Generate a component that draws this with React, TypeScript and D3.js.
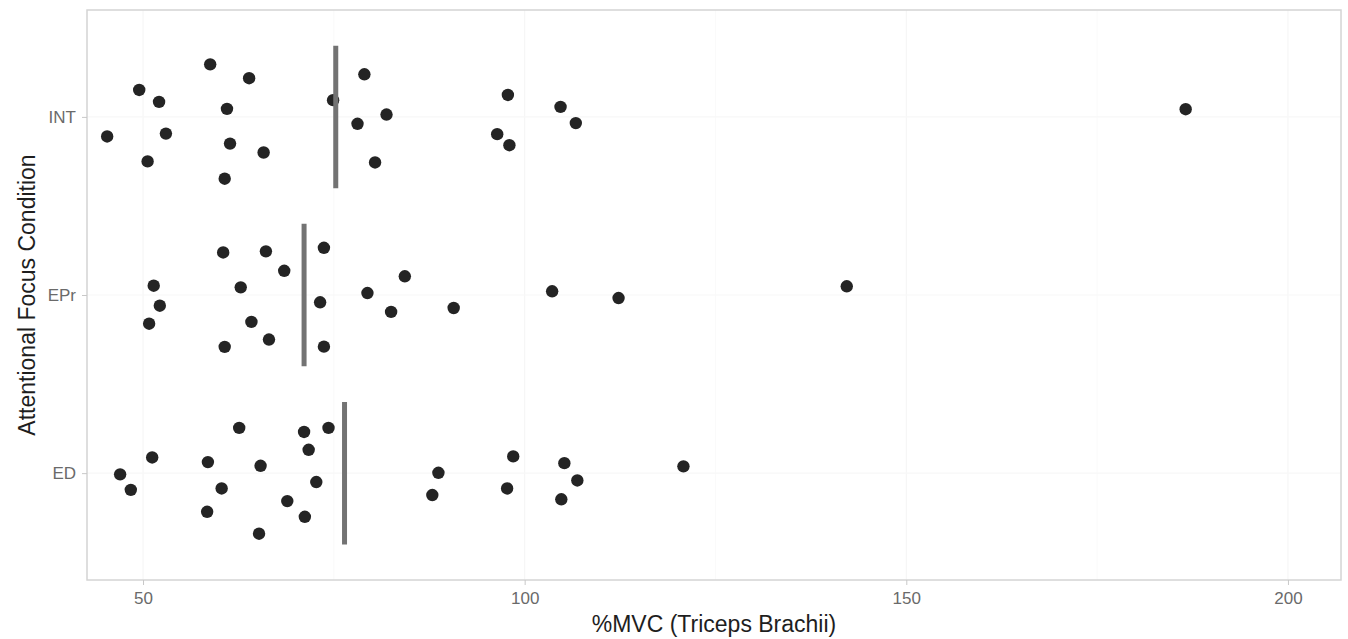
import React, { useEffect, useRef } from "react";
import * as d3 from "d3";

// %MVC values, with the vertical jitter of each point (in category units)
const categories = ["ED", "EPr", "INT"];

const intValues = [
  58.8, 63.9, 49.5, 52.1, 61.0, 45.3, 53.0, 61.4, 50.6, 65.8, 60.7,
  74.9, 79.0, 81.9, 78.1, 80.4, 97.8, 96.4, 98.0, 104.7, 106.7, 186.6
];
const intJitter = [
  0.295, 0.217, 0.151, 0.084, 0.045, -0.11, -0.094, -0.15, -0.25, -0.2, -0.347,
  0.094, 0.239, 0.013, -0.039, -0.256, 0.123, -0.097, -0.159, 0.056, -0.035, 0.043
];

const eprValues = [
  60.5, 66.1, 68.5, 73.7, 51.4, 52.2, 50.8, 62.8, 64.2, 66.5,
  60.7, 73.2, 73.7, 79.4, 84.3, 82.5, 90.7, 103.6, 112.3, 142.2
];
const eprJitter = [
  0.239, 0.245, 0.136, 0.265, 0.052, -0.06, -0.161, 0.043, -0.151, -0.25,
  -0.291, -0.041, -0.29, 0.011, 0.105, -0.095, -0.073, 0.021, -0.017, 0.049
];

const edValues = [
  62.6, 71.1, 74.3, 71.7, 51.2, 47.0, 48.4, 58.5, 65.4, 60.3, 72.7, 68.9,
  58.4, 71.2, 65.2, 88.7, 87.9, 98.5, 97.7, 105.2, 106.9, 104.8, 120.8
];
const edJitter = [
  0.254, 0.231, 0.254, 0.131, 0.088, -0.007, -0.094, 0.062, 0.041, -0.086, -0.05, -0.157,
  -0.217, -0.245, -0.34, 0.002, -0.123, 0.094, -0.086, 0.056, -0.041, -0.147, 0.038
];

const medians = [76.4, 71.1, 75.25]; // ED, EPr, INT

const xTicks = [50, 100, 150, 200];
const xMinor = [75, 125, 175];

function App() {
  const ref = useRef(null);

  useEffect(() => {
    document.body.style.margin = "0";
    drawChart();
  }, []);

  const drawChart = () => {
    const width = 1348;
    const height = 639;
    const left = 87;
    const right = 1341;
    const top = 10;
    const bottom = 580;

    const svg = d3.select(ref.current);
    svg.selectAll("*").remove();

    const x = d3.scaleLinear().domain([42.66, 206.95]).range([left, right]);
    const y = d3.scaleLinear().domain([0.4, 3.6]).range([bottom, top]);

    const groups = [
      { name: "ED", values: edValues, jitter: edJitter, median: medians[0] },
      { name: "EPr", values: eprValues, jitter: eprJitter, median: medians[1] },
      { name: "INT", values: intValues, jitter: intJitter, median: medians[2] }
    ];

    svg
      .append("rect")
      .attr("width", width)
      .attr("height", height)
      .attr("fill", "white");

    // very faint grid
    const grid = svg.append("g");
    grid
      .selectAll("line.minor")
      .data(xMinor)
      .enter()
      .append("line")
      .attr("x1", d => x(d))
      .attr("x2", d => x(d))
      .attr("y1", top)
      .attr("y2", bottom)
      .attr("stroke", "#f9f9f9")
      .attr("stroke-width", 0.8);
    grid
      .selectAll("line.major")
      .data(xTicks)
      .enter()
      .append("line")
      .attr("x1", d => x(d))
      .attr("x2", d => x(d))
      .attr("y1", top)
      .attr("y2", bottom)
      .attr("stroke", "#f6f6f6")
      .attr("stroke-width", 1.2);
    grid
      .selectAll("line.ymajor")
      .data(categories)
      .enter()
      .append("line")
      .attr("x1", left)
      .attr("x2", right)
      .attr("y1", (d, i) => y(i + 1))
      .attr("y2", (d, i) => y(i + 1))
      .attr("stroke", "#f7f7f7")
      .attr("stroke-width", 1.2);

    // points
    groups.forEach((g, gi) => {
      svg
        .append("g")
        .selectAll("circle")
        .data(g.values)
        .enter()
        .append("circle")
        .attr("cx", d => x(d))
        .attr("cy", (d, i) => y(gi + 1 + g.jitter[i]))
        .attr("r", 6.2)
        .attr("fill", "#242424");
    });

    // median bars
    svg
      .append("g")
      .selectAll("line")
      .data(groups)
      .enter()
      .append("line")
      .attr("x1", d => x(d.median))
      .attr("x2", d => x(d.median))
      .attr("y1", (d, i) => y(i + 1 + 0.4))
      .attr("y2", (d, i) => y(i + 1 - 0.4))
      .attr("stroke", "#737373")
      .attr("stroke-width", 5);

    // panel border
    svg
      .append("rect")
      .attr("x", left)
      .attr("y", top)
      .attr("width", right - left)
      .attr("height", bottom - top)
      .attr("fill", "none")
      .attr("stroke", "#d4d4d4")
      .attr("stroke-width", 1.5);

    // x axis
    const xAxis = svg
      .append("g")
      .attr("transform", `translate(0, ${bottom})`)
      .call(
        d3
          .axisBottom(x)
          .tickValues(xTicks)
          .tickSize(5)
          .tickPadding(7)
      );
    xAxis.select(".domain").remove();
    xAxis.selectAll(".tick line").attr("stroke", "#c8c8c8");
    xAxis
      .selectAll(".tick text")
      .attr("fill", "#6a6a6a")
      .style("font-family", "Liberation Sans, Arial, sans-serif")
      .style("font-size", "17px");

    // y axis
    const yCat = d3
      .scalePoint()
      .domain(categories)
      .range([y(1), y(3)]);
    const yAxis = svg
      .append("g")
      .attr("transform", `translate(${left}, 0)`)
      .call(
        d3
          .axisLeft(yCat)
          .tickSize(5)
          .tickPadding(6)
      );
    yAxis.select(".domain").remove();
    yAxis.selectAll(".tick line").attr("stroke", "#c8c8c8");
    yAxis
      .selectAll(".tick text")
      .attr("fill", "#6a6a6a")
      .style("font-family", "Liberation Sans, Arial, sans-serif")
      .style("font-size", "17px");

    // titles
    svg
      .append("text")
      .attr("x", (left + right) / 2)
      .attr("y", 632)
      .attr("text-anchor", "middle")
      .attr("fill", "#1e1e1e")
      .style("font-family", "Liberation Sans, Arial, sans-serif")
      .style("font-size", "23px")
      .text("%MVC (Triceps Brachii)");

    svg
      .append("text")
      .attr("transform", `translate(35, ${(top + bottom) / 2}) rotate(-90)`)
      .attr("text-anchor", "middle")
      .attr("fill", "#1e1e1e")
      .style("font-family", "Liberation Sans, Arial, sans-serif")
      .style("font-size", "23px")
      .text("Attentional Focus Condition");
  };

  return (
    <div>
      <svg ref={ref} width={1348} height={639} style={{ display: "block" }} />
    </div>
  );
}

export default App;
